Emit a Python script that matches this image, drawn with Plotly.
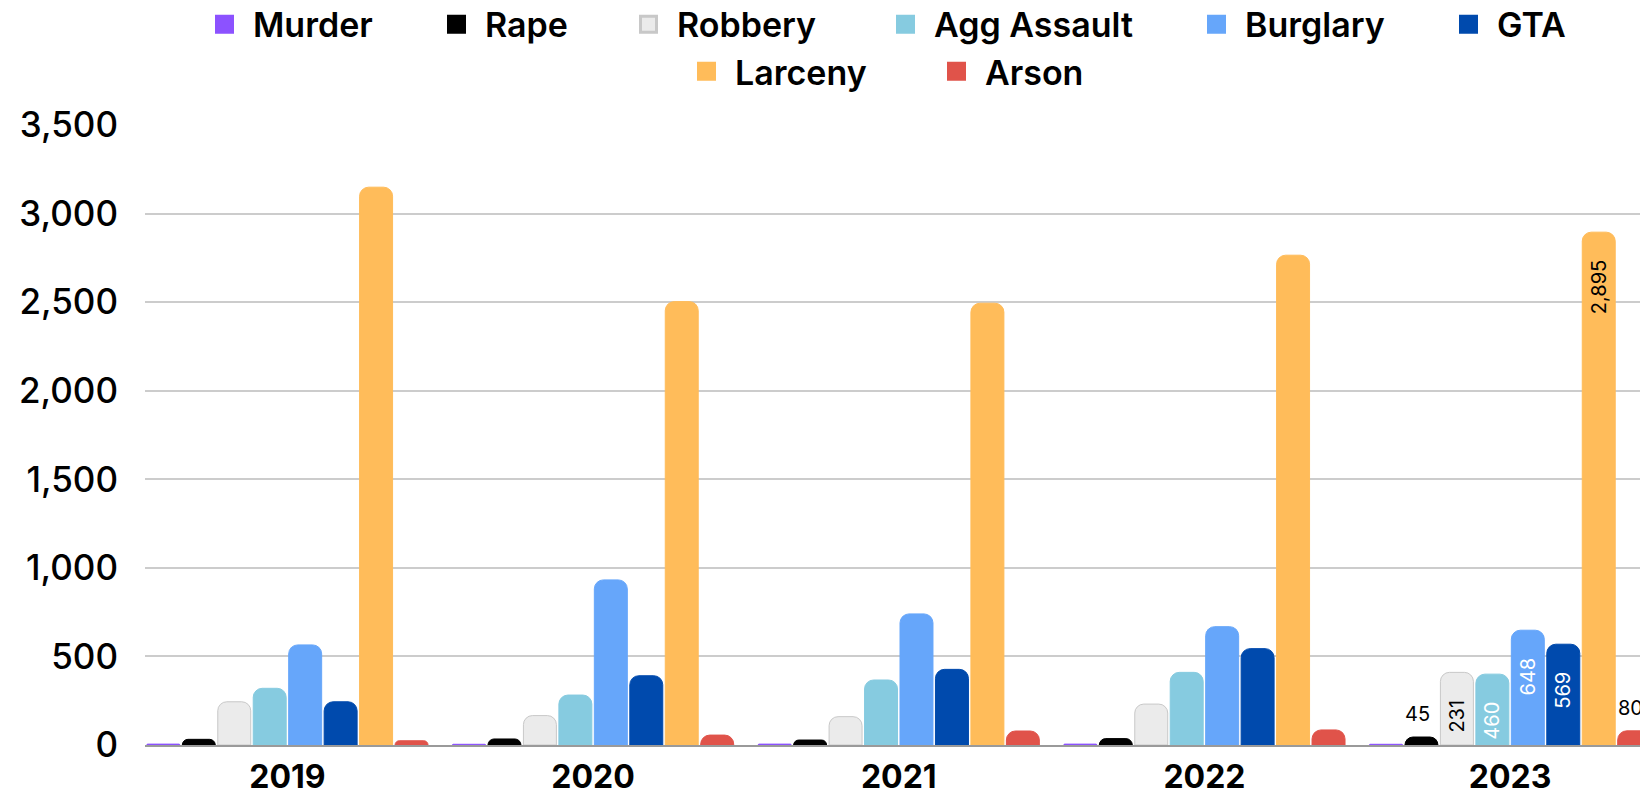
import plotly.graph_objects as go

years = ["2019", "2020", "2021", "2022", "2023"]
series_names = ["Murder", "Rape", "Robbery", "Agg Assault", "Burglary", "GTA", "Larceny", "Arson"]

murder = [5, 4, 5, 5, 4]
rape = [32, 34, 28, 36, 45]
robbery = [244, 166, 160, 231, 410]
agg_assault = [320, 282, 367, 410, 400]
burglary = [565, 932, 740, 668, 648]
gta = [244, 391, 427, 544, 569]
larceny = [3149, 2503, 2494, 2765, 2895]
arson = [24, 56, 79, 85, 80]

# data labels shown in the reference (2023 only)
labels = {
    "Murder": ["", "", "", "", ""],
    "Rape": ["", "", "", "", "45"],
    "Robbery": ["", "", "", "", "231"],
    "Agg Assault": ["", "", "", "", "460"],
    "Burglary": ["", "", "", "", "648"],
    "GTA": ["", "", "", "", "569"],
    "Larceny": ["", "", "", "", "2,895"],
    "Arson": ["", "", "", "", "80"],
}

values = [murder, rape, robbery, agg_assault, burglary, gta, larceny, arson]
colors = ["#8C52FF", "#000000", "#EBEBEB", "#86CBE0", "#66A6FA", "#004AAD", "#FFBC5A", "#E0534A"]
line_colors = ["#8C52FF", "#000000", "#C8C8C8", "#86CBE0", "#66A6FA", "#004AAD", "#FFBC5A", "#E0534A"]
label_colors = ["black", "black", "black", "white", "white", "white", "black", "black"]
label_inside = [True, False, True, True, True, True, True, False]

FONT = "Inter"
PAD = "\u00a0\u00a0\u00a0\u00a0"

# legend layout: one legend per entry so that both rows can be centred
ITEMW = 47
leg_text_px = [253, 485, 677, 934, 1245, 1497, 735, 985]
leg_row = [0, 0, 0, 0, 0, 0, 1, 1]
row_y = [1.162, 1.086]
PLOT_L, PLOT_R = 145, 1640

N = len(series_names)
CAT_PX = (PLOT_R - PLOT_L) / (4.425 + 0.466)
SLOT_PX = CAT_PX * (1 - 0.072) / N

fig = go.Figure()
for i, (name, vals) in enumerate(zip(series_names, values)):
    txt = labels[name]
    inside = label_inside[i]
    fig.add_trace(go.Bar(
        name=name,
        x=years,
        y=vals,
        marker=dict(color=colors[i], line=dict(color=line_colors[i], width=1)),
        text=[t + PAD if t else "" for t in txt] if inside else None,
        textposition="inside" if inside else "none",
        textangle=-90,
        insidetextanchor="end",
        constraintext="none",
        textfont=dict(family=FONT, size=20, color=label_colors[i]),
        hoverinfo="skip",
        showlegend=False,
    ))
    if not inside:
        for k, (v, t) in enumerate(zip(vals, txt)):
            if t:
                fig.add_annotation(
                    x=k, y=v, xref="x", yref="y", text=t, showarrow=False,
                    xanchor="center", yanchor="bottom",
                    xshift=(i - (N - 1) / 2) * SLOT_PX - 4, yshift=9,
                    font=dict(family=FONT, size=20, color=label_colors[i]),
                )
    # legend entry (square swatch)
    fig.add_trace(go.Scatter(
        name=name,
        x=[None], y=[None],
        mode="markers",
        marker=dict(symbol="square", size=16, color=colors[i],
                    line=dict(color=line_colors[i], width=3)),
        hoverinfo="skip",
        showlegend=True,
        legend="legend" if i == 0 else f"legend{i+1}",
    ))

layout_legends = {}
for i in range(N):
    key = "legend" if i == 0 else f"legend{i+1}"
    layout_legends[key] = dict(
        x=(leg_text_px[i] - ITEMW - 10 - PLOT_L) / (PLOT_R - PLOT_L),
        xanchor="left",
        y=row_y[leg_row[i]],
        yanchor="middle",
        orientation="h",
        bgcolor="rgba(0,0,0,0)",
        itemsizing="trace",
        itemwidth=ITEMW,
        font=dict(family=FONT, size=34, color="black", weight=600),
    )

fig.update_layout(
    width=1640,
    height=797,
    margin=dict(l=PLOT_L, r=0, t=125, b=52, autoexpand=False),
    paper_bgcolor="white",
    plot_bgcolor="white",
    barmode="group",
    bargap=0.072,
    bargroupgap=0.07,
    barcornerradius=9,
    showlegend=True,
    font=dict(family=FONT, color="black"),
    **layout_legends,
)

fig.update_xaxes(
    type="category",
    range=[-0.466, 4.425],
    showgrid=False,
    showline=True,
    linecolor="#9a9a9a",
    linewidth=2,
    layer="below traces",
    ticks="",
    tickfont=dict(family=FONT, size=32, color="black", weight=700),
    ticklabelstandoff=3,
    automargin=False,
)
fig.update_yaxes(
    range=[0, 3500],
    dtick=500,
    tickformat=",",
    showgrid=True,
    gridcolor="#cccccc",
    gridwidth=1.6,
    zeroline=False,
    showline=False,
    ticks="",
    tickfont=dict(family=FONT, size=35, color="black", weight=500),
    ticklabelstandoff=26,
    automargin=False,
)

fig.write_html("out.html", config={"displayModeBar": False},
               post_script="document.body.style.margin='0px';")
